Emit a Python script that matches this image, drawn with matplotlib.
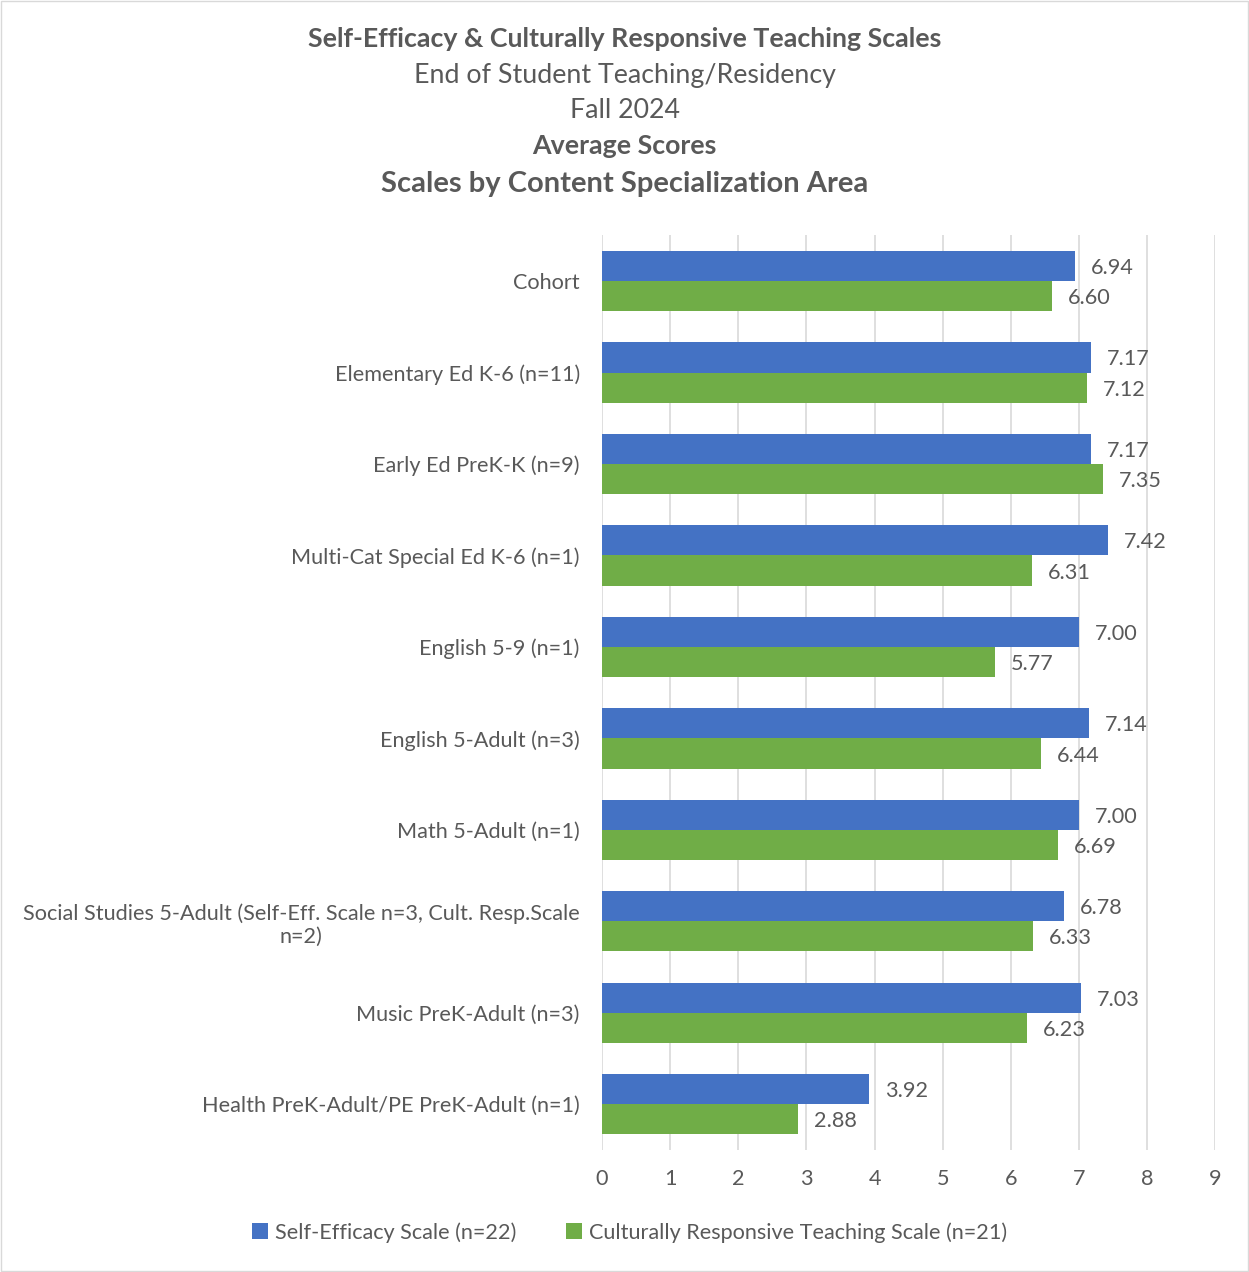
import matplotlib.pyplot as plt
import numpy as np

plt.rcParams['font.family'] = ['Lato', 'DejaVu Sans']

categories = [
    "Cohort",
    "Elementary Ed K-6 (n=11)",
    "Early Ed PreK-K (n=9)",
    "Multi-Cat Special Ed K-6 (n=1)",
    "English 5-9 (n=1)",
    "English 5-Adult (n=3)",
    "Math 5-Adult (n=1)",
    "Social Studies 5-Adult (Self-Eff. Scale n=3, Cult. Resp.Scale\nn=2)",
    "Music PreK-Adult (n=3)",
    "Health PreK-Adult/PE PreK-Adult (n=1)",
]
self_eff = [6.94, 7.17, 7.17, 7.42, 7.00, 7.14, 7.00, 6.78, 7.03, 3.92]
cult_resp = [6.60, 7.12, 7.35, 6.31, 5.77, 6.44, 6.69, 6.33, 6.23, 2.88]
series_names = ["Self-Efficacy Scale (n=22)", "Culturally Responsive Teaching Scale (n=21)"]

blue = "#4472C4"
green = "#70AD47"
grey = "#595959"
fs = 15.6

fig = plt.figure(figsize=(12.49, 12.72), dpi=100)
ax = fig.add_axes([0.482, 0.096, 0.491, 0.719])

y = np.arange(len(categories))
h = 0.33
b1 = ax.barh(y - h / 2, self_eff, height=h, color=blue, label=series_names[0], zorder=3)
b2 = ax.barh(y + h / 2, cult_resp, height=h, color=green, label=series_names[1], zorder=3)

# value labels just right of each bar
for bars, vals in ((b1, self_eff), (b2, cult_resp)):
    for bar, v in zip(bars, vals):
        ax.annotate(f"{v:.2f}", (v, bar.get_y() + bar.get_height() / 2),
                    xytext=(11.5, -1.5), textcoords="offset points",
                    va="center", ha="left", fontsize=fs, color=grey)

ax.set_xlim(0, 9)
ax.set_ylim(len(categories) - 0.5, -0.5)
ax.set_xticks(range(10))
ax.set_yticks(y)
ax.set_yticklabels(categories, fontsize=fs, color=grey)
ax.tick_params(axis='x', labelsize=fs, colors=grey, length=0, pad=14)
ax.tick_params(axis='y', length=0, pad=16)
for lbl in ax.get_yticklabels():
    lbl.set_multialignment('center')
ax.grid(axis='x', color="#D9D9D9", linewidth=1.2, zorder=0)
for s in ax.spines.values():
    s.set_visible(False)

tfs = 19.3
fig.text(0.5, 0.969, "Self-Efficacy & Culturally Responsive Teaching Scales",
         ha="center", va="center", fontsize=tfs, fontweight="bold", color=grey)
fig.text(0.5, 0.941, "End of Student Teaching/Residency", ha="center", va="center",
         fontsize=tfs, color=grey)
fig.text(0.5, 0.913, "Fall 2024", ha="center", va="center", fontsize=tfs, color=grey)
fig.text(0.5, 0.885, "Average Scores", ha="center", va="center",
         fontsize=tfs, fontweight="bold", color=grey)
fig.text(0.5, 0.855, "Scales by Content Specialization Area", ha="center", va="center",
         fontsize=21, fontweight="bold", color=grey)

fig.legend(handles=[b1, b2], loc="center", bbox_to_anchor=(0.504, 0.031), ncol=2,
           frameon=False, fontsize=fs, labelcolor=grey, handlelength=0.75,
           handleheight=0.75, handletextpad=0.3, columnspacing=2.3)

fig.patches.append(plt.Rectangle((0.001, 0.001), 0.998, 0.998, transform=fig.transFigure,
                                 fill=False, edgecolor="#D9D9D9", linewidth=1))

fig.savefig("out.png", dpi=100, facecolor="white")
